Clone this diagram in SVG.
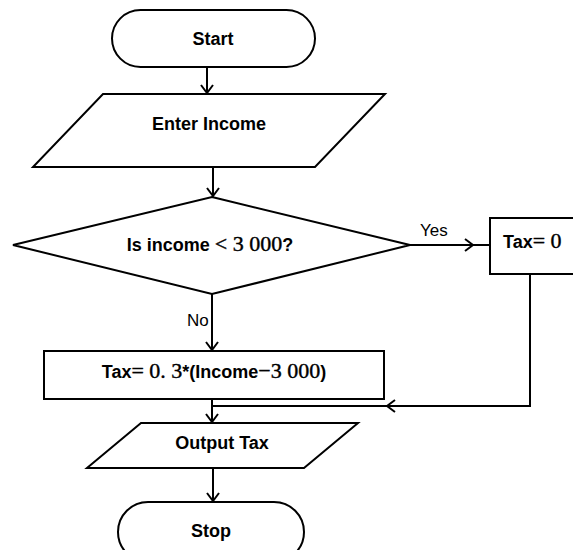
<svg xmlns="http://www.w3.org/2000/svg" width="573" height="550" viewBox="0 0 573 550">
  <style>
    .shape { fill: #ffffff; stroke: #000000; stroke-width: 2; }
    .line { fill: none; stroke: #000000; stroke-width: 2; }
    .lbl { font-family: "Liberation Sans", Arial, sans-serif; font-weight: bold; font-size: 18px; fill: #000000; }
    .math { font-family: "Liberation Serif", "Times New Roman", serif; font-weight: normal; font-size: 22px; stroke: #000000; stroke-width: 0.4; }
    .tag { font-family: "Liberation Sans", Arial, sans-serif; font-size: 17px; fill: #000000; }
  </style>
  <defs>
    <marker id="arrow" markerWidth="10" markerHeight="14" refX="9" refY="7" orient="auto" markerUnits="userSpaceOnUse">
      <path d="M1,1 L9,7 L1,13" fill="none" stroke="#000000" stroke-width="2"/>
    </marker>
  </defs>
  <rect width="573" height="550" fill="#ffffff"/>

  <g id="connectors">
    <line class="line" x1="207" y1="67" x2="207" y2="93" marker-end="url(#arrow)"/>
    <line class="line" x1="213" y1="167" x2="213" y2="196" marker-end="url(#arrow)"/>
    <!-- yes branch -->
    <line class="line" x1="410" y1="245" x2="473" y2="245" marker-end="url(#arrow)"/>
    <line class="line" x1="470" y1="245" x2="490" y2="245"/>
    <!-- no branch -->
    <line class="line" x1="212" y1="294" x2="212" y2="350" marker-end="url(#arrow)"/>
    <!-- merge from Tax = 0 -->
    <polyline class="line" points="530,274 530,406 387,406" marker-end="url(#arrow)"/>
    <line class="line" x1="212" y1="406" x2="388" y2="406"/>
    <line class="line" x1="212" y1="399" x2="212" y2="422" marker-end="url(#arrow)"/>
    <line class="line" x1="213" y1="468" x2="213" y2="501" marker-end="url(#arrow)"/>
    <text class="tag" x="420" y="236">Yes</text>
    <text class="tag" x="187" y="326">No</text>
  </g>

  <g id="start">
    <rect class="shape" x="112" y="10" width="203" height="57" rx="28.5" ry="28.5"/>
    <text class="lbl" x="213" y="45" text-anchor="middle">Start</text>
  </g>

  <g id="enter-income">
    <polygon class="shape" points="103,94 385,94 315,167 33,167"/>
    <text class="lbl" x="209" y="130" text-anchor="middle">Enter Income</text>
  </g>

  <g id="decision">
    <polygon class="shape" points="212,197 410,245 212,294 13,245"/>
    <text class="lbl" x="210" y="251" text-anchor="middle">Is income <tspan class="math">&lt; 3 000</tspan>?</text>
  </g>

  <g id="tax-zero">
    <rect class="shape" x="490" y="218" width="100" height="56"/>
    <text class="lbl" x="503" y="248">Tax<tspan class="math">= 0</tspan></text>
  </g>

  <g id="tax-formula">
    <rect class="shape" x="44" y="351" width="340" height="48"/>
    <text class="lbl" x="214" y="378" text-anchor="middle">Tax<tspan class="math">= 0. 3</tspan>*(Income<tspan class="math">−3 000</tspan>)</text>
  </g>

  <g id="output-tax">
    <polygon class="shape" points="141,423 358,423 304,468 87,468"/>
    <text class="lbl" x="222" y="449" text-anchor="middle">Output Tax</text>
  </g>

  <g id="stop">
    <rect class="shape" x="118" y="502" width="186" height="60" rx="30" ry="30"/>
    <text class="lbl" x="211" y="537" text-anchor="middle">Stop</text>
  </g>
</svg>
